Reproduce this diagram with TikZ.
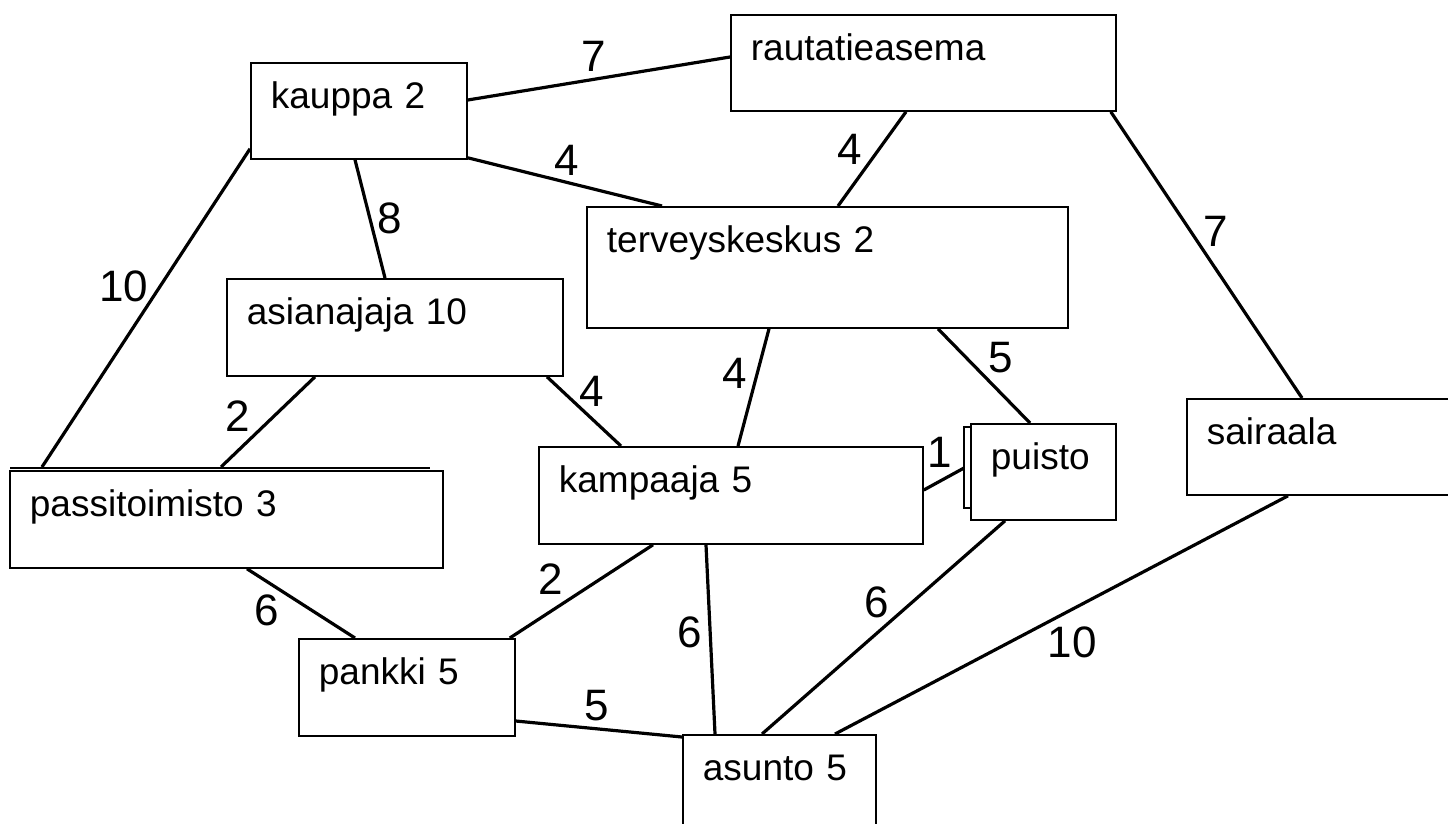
\documentclass[tikz,border=0pt]{standalone}
\usepackage{fontspec}
\setmainfont{Liberation Sans}
\usepackage{tikz}
\usetikzlibrary{positioning}

\begin{document}
\begin{tikzpicture}[x=1pt, y=-1pt,
    place/.style={rectangle, draw, line width=1.8pt, anchor=north west,
        inner xsep=20pt, inner ysep=0pt, text height=46pt, text depth=50pt,
        align=left, font=\fontsize{37}{40}\selectfont},
    road/.style={line width=3.2pt},
    wt/.style={inner sep=0pt, font=\fontsize{44}{46}\selectfont}]
    \useasboundingbox (0,0) rectangle (1448,823);
    \clip (0,0) rectangle (1448,823);

    \node (kauppa) [place, text width=176pt] at (250,62) {kauppa 2};
    \node (rautatie) [place, text width=345pt] at (730,14) {rautatieasema};
    \node (terveys) [place, text width=441pt, text depth=75pt] at (586,206) {terveyskeskus 2};
    \node (asianajaja) [place, text width=296pt, text depth=51pt] at (226,278) {asianajaja 10};
    \node (passi) [place, text width=393pt, text depth=51pt] at (9,470) {passitoimisto 3};
    \node (kampaaja) [place, text width=344pt, text depth=51pt] at (538,446) {kampaaja 5};
    \node (puisto) [place, text width=105pt] at (970,423) {puisto};
    \node (sairaala) [place, text width=260pt] at (1186,398) {sairaala};
    \node (pankki) [place, text width=176pt, text depth=51pt] at (298,638) {pankki 5};
    \node (asunto) [place, text width=153pt, text depth=90pt] at (682,734) {asunto 5};

    % doubled edges of two boxes
    \draw [line width=2.6pt] ([shift={(1,-2)}]passi.north west) -- ++(420,0);
    \draw [line width=1.8pt] ([shift={(0,4)}]puisto.north west) -- ++(-6,0) -- ++(0,81) -- ++(6,0);

    \draw [road] ([shift={(0,38)}]kauppa.north east) -- node[wt, shift={(-5,-22.5)}] {7} ([shift={(0,43)}]rautatie.north west);
    \draw [road] ([shift={(0,-2)}]kauppa.south east) -- node[wt, shift={(2,-22)}] {4} ([shift={(76,0)}]terveys.north west);
    \draw [road] ([shift={(105,0)}]kauppa.south west) -- node[wt, shift={(20,-1)}] {8} ([shift={(159,0)}]asianajaja.north west);
    \draw [road] ([shift={(0,-11)}]kauppa.south west) -- node[wt, shift={(-22,-22)}] {10} ([shift={(33,-3)}]passi.north west);
    \draw [road] ([shift={(176,0)}]rautatie.south west) -- node[wt, shift={(-22,-10)}] {4} ([shift={(252,0)}]terveys.north west);
    \draw [road] ([shift={(-6,0)}]rautatie.south east) -- node[wt, shift={(9.5,-24)}] {7} ([shift={(116,0)}]sairaala.north west);
    \draw [road] ([shift={(183,0)}]terveys.south west) -- node[wt, shift={(-18.5,-14.5)}] {4} ([shift={(200,0)}]kampaaja.north west);
    \draw [road] ([shift={(352,0)}]terveys.south west) -- node[wt, shift={(17,-18)}] {5} ([shift={(60,0)}]puisto.north west);
    \draw [road] ([shift={(89,0)}]asianajaja.south west) -- node[wt, shift={(-30,-6)}] {2} ([shift={(212,-3)}]passi.north west);
    \draw [road] ([shift={(321,0)}]asianajaja.south west) -- node[wt, shift={(8,-20.5)}] {4} ([shift={(83,0)}]kampaaja.north west);
    \draw [road] ([shift={(0,44)}]kampaaja.north east) -- node[wt, shift={(-4,-27)}] {1} ([shift={(-6,45)}]puisto.north west);
    \draw [road] ([shift={(115,0)}]kampaaja.south west) -- node[wt, shift={(-30.5,-12.5)}] {2} ([shift={(-6,0)}]pankki.north east);
    \draw [road] ([shift={(168,0)}]kampaaja.south west) -- node[wt, shift={(-20.5,-7.5)}] {6} ([shift={(33,0)}]asunto.north west);
    \draw [road] ([shift={(238,0)}]passi.south west) -- node[wt, shift={(-34,6.5)}] {6} ([shift={(57,0)}]pankki.north west);
    \draw [road] ([shift={(0,83)}]pankki.north east) -- node[wt, shift={(-2,-23)}] {5} ([shift={(0,3)}]asunto.north west);
    \draw [road] ([shift={(35,0)}]puisto.south west) -- node[wt, shift={(-6.5,-25.5)}] {6} ([shift={(80,0)}]asunto.north west);
    \draw [road] ([shift={(102,0)}]sairaala.south west) -- node[wt, shift={(10.5,27)}] {10} ([shift={(153,0)}]asunto.north west);
\end{tikzpicture}
\end{document}
